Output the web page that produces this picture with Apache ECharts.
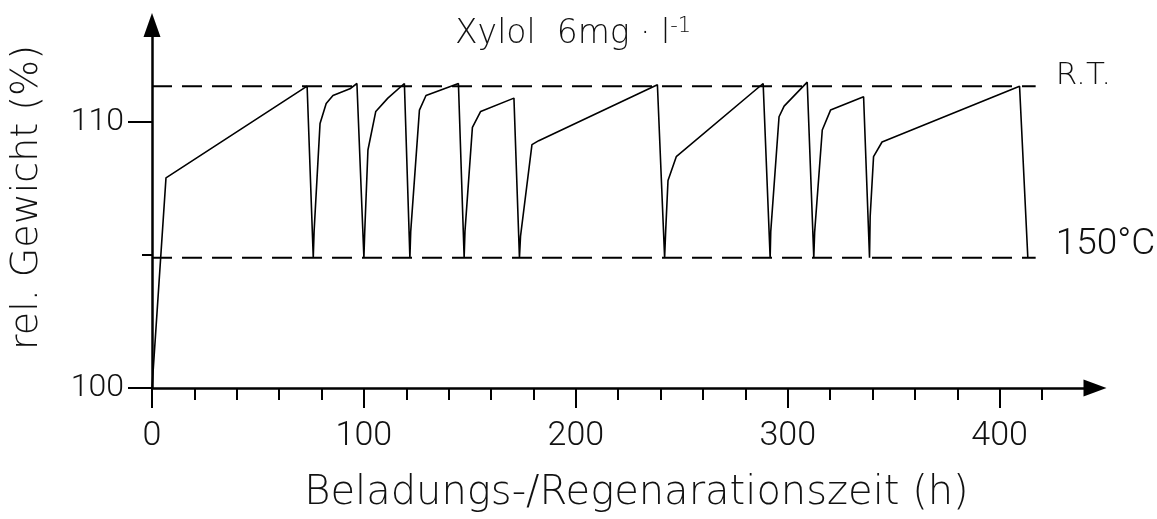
<!DOCTYPE html>
<html>
<head>
<meta charset="utf-8">
<title>Xylol 6mg/l</title>
<script src="https://cdn.jsdelivr.net/npm/echarts@6/dist/echarts.min.js"></script>
<style>
    body { margin: 0; background: #fff; }
    #chart { width: 1157px; height: 519px; }
</style>
</head>
<body>
<div id="chart"></div>
<script>
// Zeit (h) und rel. Gewicht (%) der Messkurve
var curveTime = [0, 6.6, 73.2, 76.1, 76.5, 79.3, 82.2, 85.4, 93.4, 96.7,
    100.0, 100.4, 101.9, 105.6, 111.3, 119.1, 121.7, 122.1, 126.2, 129.3,
    144.6, 147.3, 147.7, 151.2, 155.1, 170.8, 173.4, 173.9, 179.3, 182.5,
    238.5, 241.9, 242.4, 243.5, 247.4, 288.4, 291.7, 292.0, 295.9, 298.3,
    309.2, 312.3, 312.7, 316.3, 320.2, 335.8, 338.6, 338.9, 340.5, 344.5,
    409.4, 413.3];
var curveWeight = [100.0, 107.9, 111.35, 104.9, 105.9, 109.95, 110.7, 111.0, 111.25, 111.45,
    104.9, 105.9, 108.95, 110.4, 110.9, 111.45, 104.9, 105.9, 110.45, 111.0,
    111.45, 104.9, 105.9, 109.8, 110.4, 110.9, 104.9, 105.7, 109.15, 109.3,
    111.4, 104.9, 105.9, 107.8, 108.7, 111.45, 104.9, 105.9, 110.2, 110.6,
    111.5, 104.9, 105.85, 109.7, 110.45, 110.95, 104.9, 106.45, 108.7, 109.25,
    111.35, 104.9];

// Temperaturniveaus (gestrichelt)
var rtLevel = 111.35;
var regenLevel = 104.9;
var levelStart = 0;
var levelEnd = 417;

// Achsenteilung
var xMajorTicks = [0, 100, 200, 300, 400];
var xMinorTicks = [20, 40, 60, 80, 120, 140, 160, 180, 220, 240, 260, 280, 320, 340, 360, 380, 420];
var yMajorTicks = [100, 110];
var yMinorTicks = [105];

var curveData = [];
for (var i = 0; i < curveTime.length; i++) {
    curveData.push([curveTime[i], curveWeight[i]]);
}

var thinFont = 'DejaVu Sans';
var tickFont = 'Roboto';

var chart = echarts.init(document.getElementById('chart'));
var option = {
    animation: false,
    backgroundColor: '#fff',
    title: {
        text: 'Xylol  6mg · l{s|-1}',
        left: 450,
        top: 11,
        textStyle: {
            fontFamily: thinFont,
            fontWeight: 200,
            fontSize: 33,
            color: '#111',
            rich: {
                s: {fontFamily: thinFont, fontWeight: 200, fontSize: 21, color: '#111', verticalAlign: 'top', padding: [0, 0, 16, 0]}
            }
        }
    },
    grid: {left: 148, right: 62, top: 25, bottom: 131},
    xAxis: [
        {
            type: 'value',
            min: 0,
            max: 445,
            position: 'bottom',
            name: 'Beladungs-/Regenarationszeit (h)',
            nameLocation: 'middle',
            nameGap: 86,
            nameTextStyle: {fontFamily: thinFont, fontWeight: 200, fontSize: 40, color: '#111', padding: [0, 0, 0, 26]},
            axisLine: {onZero: false, symbol: ['none', 'triangle'], symbolSize: [17, 23], lineStyle: {color: '#000', width: 2.5}},
            axisTick: {customValues: xMajorTicks, length: 20, lineStyle: {color: '#000', width: 2}},
            axisLabel: {customValues: xMajorTicks, margin: 31, fontFamily: tickFont, fontWeight: 300, fontSize: 34, color: '#111'},
            splitLine: {show: false}
        },
        {
            type: 'value',
            min: 0,
            max: 445,
            position: 'bottom',
            axisLine: {show: false},
            axisTick: {customValues: xMinorTicks, length: 12, lineStyle: {color: '#000', width: 2}},
            axisLabel: {show: false},
            splitLine: {show: false}
        }
    ],
    yAxis: [
        {
            type: 'value',
            min: 100,
            max: 113.65,
            position: 'left',
            name: 'rel. Gewicht (%)',
            nameLocation: 'middle',
            nameGap: 106,
            nameTextStyle: {fontFamily: thinFont, fontWeight: 200, fontSize: 38, color: '#111', padding: [0, 0, 0, 18]},
            axisLine: {onZero: false, symbol: ['none', 'triangle'], symbolSize: [17, 24], lineStyle: {color: '#000', width: 2.5}},
            axisTick: {customValues: yMajorTicks, length: 24, lineStyle: {color: '#000', width: 2}},
            axisLabel: {customValues: yMajorTicks, margin: 28, fontFamily: tickFont, fontWeight: 300, fontSize: 32, color: '#111'},
            splitLine: {show: false}
        },
        {
            type: 'value',
            min: 100,
            max: 113.65,
            position: 'left',
            axisLine: {show: false},
            axisTick: {customValues: yMinorTicks, length: 10, lineStyle: {color: '#000', width: 2}},
            axisLabel: {show: false},
            splitLine: {show: false}
        }
    ],
    series: [
        {
            name: 'R.T.',
            type: 'line',
            symbol: 'none',
            data: [[levelStart, rtLevel], [levelEnd, rtLevel]],
            lineStyle: {color: '#000', width: 2, type: [20, 10]},
            endLabel: {show: true, formatter: 'R.T.', distance: 20, offset: [0, -10], fontFamily: thinFont, fontWeight: 200, fontSize: 31, color: '#111'}
        },
        {
            name: '150°C',
            type: 'line',
            symbol: 'none',
            data: [[levelStart, regenLevel], [levelEnd, regenLevel]],
            lineStyle: {color: '#000', width: 2, type: [20, 10]},
            endLabel: {show: true, formatter: '150°C', distance: 20, offset: [0, -13], fontFamily: tickFont, fontWeight: 300, fontSize: 37, color: '#111'}
        },
        {
            name: 'Gewicht',
            type: 'line',
            symbol: 'none',
            data: curveData,
            lineStyle: {color: '#000', width: 1.6}
        }
    ]
};
chart.setOption(option);
</script>
</body>
</html>
